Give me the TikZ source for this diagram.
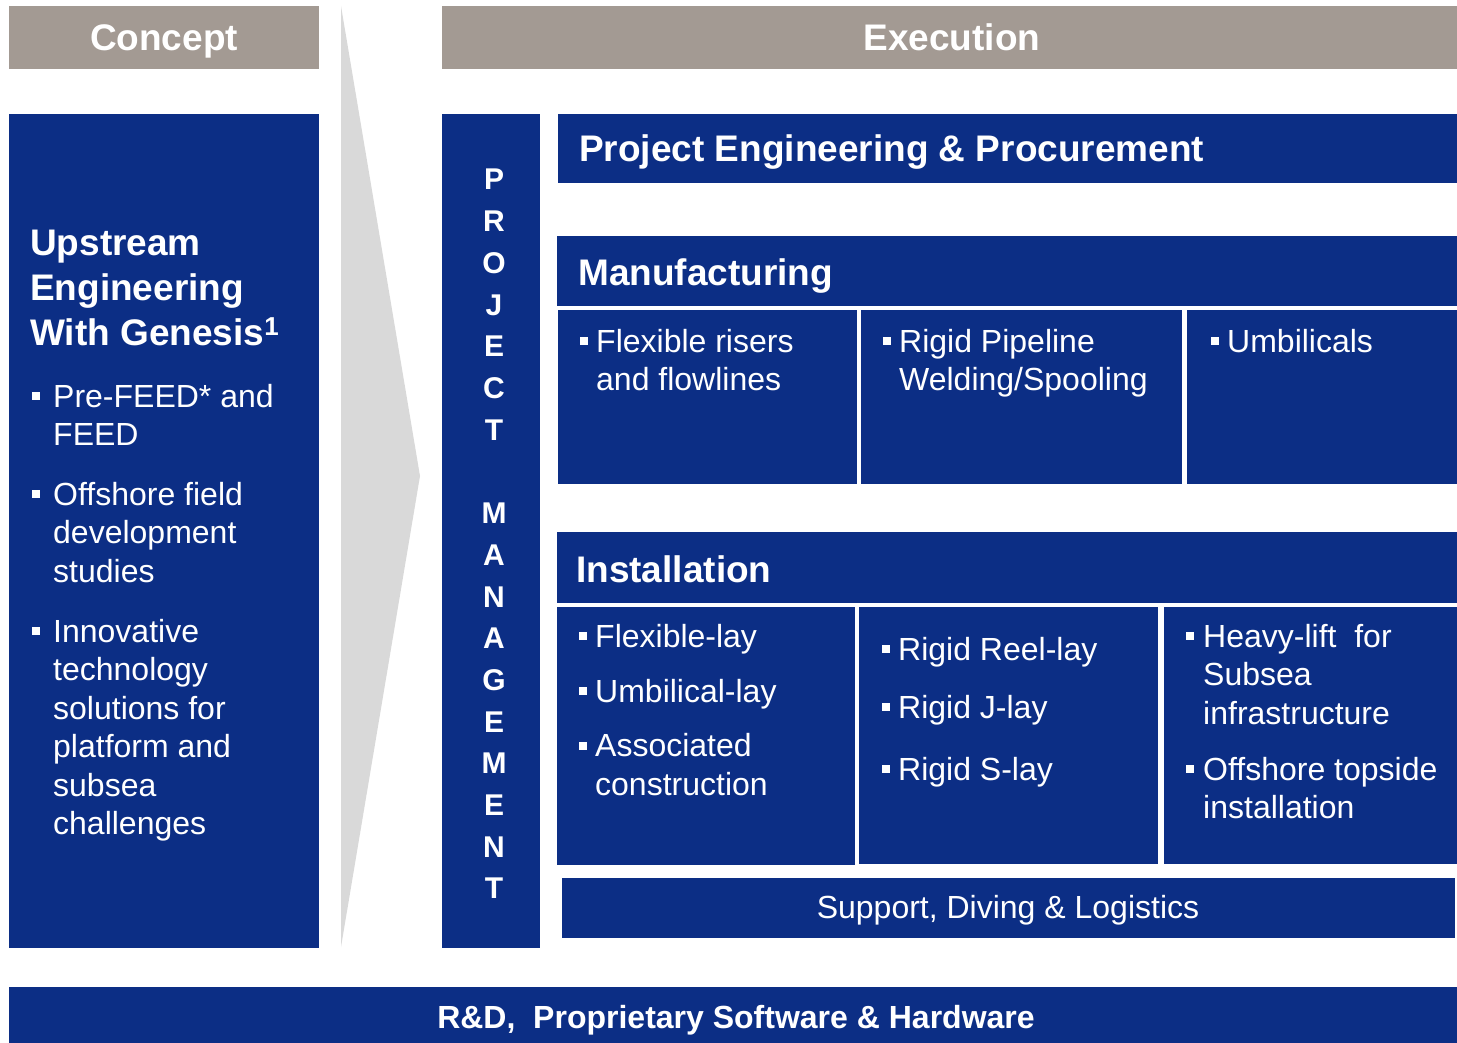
\documentclass[tikz,border=0pt]{standalone}
\usepackage{fontspec}
\setmainfont{Liberation Sans}
\definecolor{capblue}{HTML}{0C2E85}
\definecolor{headgrey}{HTML}{A39A93}
\definecolor{chevrongrey}{HTML}{D9D9D9}
\newcommand{\sqb}[1][8pt]{\llap{\rule[7pt]{8pt}{8pt}\hspace{#1}}}
\tikzset{
  panel/.style 2 args={fill=capblue, inner sep=0pt, anchor=north west, minimum width=#1pt, minimum height=#2pt},
  header bar/.style 2 args={fill=headgrey, inner sep=0pt, anchor=north west, minimum width=#1pt, minimum height=#2pt},
  big title/.style={text=white, inner sep=0pt, font=\bfseries\fontsize{37}{45}\selectfont},
  item text/.style={text=white, inner sep=0pt, anchor=base west, align=left, font=\fontsize{32}{38.5}\selectfont},
  pm letter/.style={text=white, inner sep=0pt, anchor=base, font=\bfseries\fontsize{30}{36}\selectfont}
}

\begin{document}
\begin{tikzpicture}[x=1pt, y=-1pt]
  \useasboundingbox (0,0) rectangle (1457,1043);

  % --- Phase headers ---
  \node[header bar={310}{63}] (concept-bar) at (9,6) {};
  \node[header bar={1015}{63}] (execution-bar) at (442,6) {};
  \node[big title, anchor=base] (concept-title) at (164,51) {Concept};
  \node[big title, anchor=base] (execution-title) at (952,51) {Execution};

  % --- Chevron between the phases ---
  \fill[chevrongrey] (341,6) -- (420,476) -- (341,947) -- cycle;

  % --- Concept column (multi-line texts sit on their last baseline) ---
  \node[panel={310}{834}] (upstream) at (9,114) {};
  \node[big title, anchor=base west, align=left] (upstream-title) at (30,345)
    {Upstream\\Engineering\\With Genesis\textsuperscript{1}};
  \node[item text] (up-1) at (53,445.5) {\sqb[13pt]Pre-FEED* and\\FEED};
  \node[item text] (up-2) at (53,582) {\sqb[13pt]Offshore field\\development\\studies};
  \node[item text] (up-3) at (53,834.5) {\sqb[13pt]Innovative\\technology\\solutions for\\platform and\\subsea\\challenges};

  % --- Project management column ---
  \node[panel={98}{834}] (pm) at (442,114) {};
  \foreach \ch/\n in {P/0,R/1,O/2,J/3,E/4,C/5,T/6,M/8,A/9,N/10,A/11,G/12,E/13,M/14,E/15,N/16,T/17}
    \node[pm letter] (pm-\n) at (494,{190+41.7*\n}) {\ch};

  % --- Project engineering & procurement ---
  \node[panel={899}{69}] (pep) at (558,114) {};
  \node[big title, anchor=base west] (pep-title) at (579,162) {Project Engineering \& Procurement};

  % --- Manufacturing ---
  \node[panel={900}{69.5}] (manuf) at (557,236) {};
  \node[big title, anchor=base west] (manuf-title) at (578,285) {Manufacturing};
  \node[panel={299}{174}] (manuf-a) at (558,310) {};
  \node[panel={321}{174}] (manuf-b) at (861,310) {};
  \node[panel={270}{174}] (manuf-c) at (1187,310) {};
  \node[item text] (mf-1) at (596,390.5) {\sqb Flexible risers\\and flowlines};
  \node[item text] (mf-2) at (899,390.5) {\sqb Rigid Pipeline\\Welding/Spooling};
  \node[item text] (mf-3) at (1227,352) {\sqb Umbilicals};

  % --- Installation ---
  \node[panel={900}{71}] (inst) at (557,532) {};
  \node[big title, anchor=base west] (inst-title) at (576,582) {Installation};
  \node[panel={298}{258}] (inst-a) at (557,607) {};
  \node[panel={299}{257}] (inst-b) at (859,607) {};
  \node[panel={293}{257}] (inst-c) at (1164,607) {};
  \node[item text] (in-1) at (595,647) {\sqb Flexible-lay};
  \node[item text] (in-2) at (595,702) {\sqb Umbilical-lay};
  \node[item text] (in-3) at (595,795) {\sqb Associated\\construction};
  \node[item text] (in-4) at (898,660) {\sqb Rigid Reel-lay};
  \node[item text] (in-5) at (898,718) {\sqb Rigid J-lay};
  \node[item text] (in-6) at (898,780) {\sqb Rigid S-lay};
  \node[item text] (in-7) at (1203,724) {\sqb[9pt]Heavy-lift~ for\\Subsea\\infrastructure};
  \node[item text] (in-8) at (1203,818.5) {\sqb[9pt]Offshore topside\\installation};

  % --- Support and R&D bars ---
  \node[panel={893}{60}] (support) at (562,878) {};
  \node[item text, anchor=base] (support-text) at (1008,918) {Support, Diving \& Logistics};
  \node[panel={1448}{56}] (rnd) at (9,987) {};
  \node[text=white, inner sep=0pt, anchor=base, font=\bfseries\fontsize{32}{36}\selectfont] (rnd-text) at (736,1028)
    {R\&D,~ Proprietary Software \& Hardware};
\end{tikzpicture}
\end{document}
